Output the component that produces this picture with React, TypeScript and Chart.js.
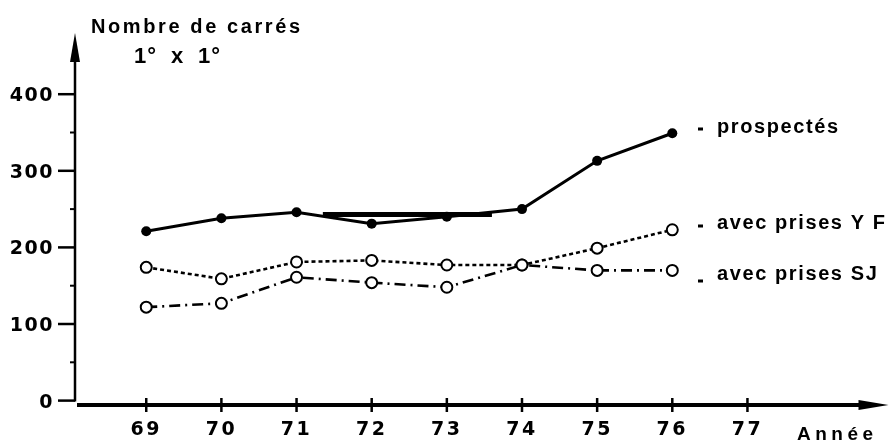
import { useEffect, useRef } from "react";
import { Chart, registerables } from "chart.js";

Chart.register(...registerables);

// Years (19xx) and number of 1°x1° squares per category
const years = [69, 70, 71, 72, 73, 74, 75, 76];
const prospectes = [221, 238, 246, 231, 240, 250, 313, 349];
const prisesYF = [174, 159, 181, 183, 177, 177, 199, 223];
const prisesSJ = [122, 127, 161, 154, 148, 177, 170, 170];

// Heavy straight stroke drawn across 71–74
const strokeYears = [71.35, 73.6];
const strokeValues = [243, 243];

const xTicks = [69, 70, 71, 72, 73, 74, 75, 76, 77];
const yTicks = [0, 100, 200, 300, 400];
const yMinorTicks = [50, 150, 250, 350];

const seriesLabels = ["prospectés", "avec prises Y F", "avec prises SJ"];
const yTitle = "Nombre de carrés";
const yUnit = ["1°", "x", "1°"];
const xTitle = "Année";

const toPoints = (xs: number[], ys: number[]) => xs.map((x, i) => ({ x, y: ys[i] }));

const axesPlugin = {
  id: "handAxes",
  afterDraw(chart: any) {
    const { ctx, chartArea, scales } = chart;
    const xs = scales.x;
    const ys = scales.y;
    const ax = chartArea.left;
    const ay = chartArea.bottom;
    ctx.save();
    ctx.fillStyle = "#000";
    ctx.strokeStyle = "#000";
    ctx.lineCap = "butt";

    // vertical axis with arrow
    ctx.lineWidth = 2.5;
    ctx.beginPath();
    ctx.moveTo(ax, ys.getPixelForValue(0) + 1);
    ctx.lineTo(ax, chartArea.top + 20);
    ctx.stroke();
    ctx.beginPath();
    ctx.moveTo(ax, chartArea.top);
    ctx.lineTo(ax - 5, chartArea.top + 29);
    ctx.lineTo(ax + 5, chartArea.top + 29);
    ctx.closePath();
    ctx.fill();

    // vertical axis ticks and labels
    ctx.font = "bold 19px 'DejaVu Sans'";
    (ctx as any).letterSpacing = "1.5px";
    ctx.textAlign = "right";
    ctx.textBaseline = "middle";
    yTicks.forEach((v) => {
      const py = ys.getPixelForValue(v);
      ctx.lineWidth = 2.5;
      ctx.beginPath();
      ctx.moveTo(ax - 17, py);
      ctx.lineTo(ax, py);
      ctx.stroke();
      ctx.fillText(String(v), ax - 21, py + 2);
    });
    yMinorTicks.forEach((v) => {
      const py = ys.getPixelForValue(v);
      ctx.lineWidth = 2;
      ctx.beginPath();
      ctx.moveTo(ax - 5, py);
      ctx.lineTo(ax, py);
      ctx.stroke();
    });

    // horizontal axis with arrow
    const right = chartArea.right;
    ctx.lineWidth = 4;
    ctx.beginPath();
    ctx.moveTo(ax + 2, ay);
    ctx.lineTo(right - 20, ay);
    ctx.stroke();
    ctx.beginPath();
    ctx.moveTo(right, ay);
    ctx.lineTo(right - 30, ay - 5);
    ctx.lineTo(right - 30, ay + 5);
    ctx.closePath();
    ctx.fill();

    // horizontal axis ticks and labels
    ctx.textAlign = "center";
    (ctx as any).letterSpacing = "2.5px";
    xTicks.forEach((v) => {
      const px = xs.getPixelForValue(v);
      ctx.lineWidth = 2.5;
      ctx.beginPath();
      ctx.moveTo(px, ay - 7);
      ctx.lineTo(px, ay + 7);
      ctx.stroke();
      ctx.fillText(String(v), px, ay + 25);
    });

    // axis titles
    ctx.textAlign = "left";
    ctx.textBaseline = "alphabetic";
    ctx.font = "bold 19px 'Liberation Sans'";
    (ctx as any).letterSpacing = "4.5px";
    ctx.fillText(xTitle, 797, ay + 35);

    ctx.font = "bold 20px 'Liberation Sans'";
    (ctx as any).letterSpacing = "2.6px";
    ctx.fillText(yTitle, 91, 33);
    ctx.font = "bold 22px 'Liberation Sans'";
    (ctx as any).letterSpacing = "1px";
    ctx.fillText(yUnit[0], 134, 63);
    ctx.fillText(yUnit[1], 171, 63);
    ctx.fillText(yUnit[2], 198, 63);

    // series labels beside the last points
    ctx.font = "bold 20px 'Liberation Sans'";
    (ctx as any).letterSpacing = "1.6px";
    const baselines = [133, 229, 280];
    const dashY = [129, 226, 281];
    seriesLabels.forEach((label, i) => {
      ctx.fillRect(698, dashY[i] - 1.5, 5, 3);
      ctx.fillText(label, 717, baselines[i]);
    });

    ctx.restore();
  },
};

export default function App() {
  const canvasRef = useRef<HTMLCanvasElement | null>(null);

  useEffect(() => {
    const canvas = canvasRef.current;
    if (!canvas) return;
    const chart = new Chart(canvas, {
      type: "line",
      data: {
        datasets: [
          {
            label: seriesLabels[0],
            data: toPoints(years, prospectes),
            borderColor: "#000",
            borderWidth: 3,
            pointRadius: 5,
            pointBackgroundColor: "#000",
            pointBorderWidth: 0,
            tension: 0,
          },
          {
            label: seriesLabels[1],
            data: toPoints(years, prisesYF),
            borderColor: "#000",
            borderWidth: 2.6,
            borderDash: [4, 3],
            pointRadius: 5.5,
            pointBackgroundColor: "#fff",
            pointBorderColor: "#000",
            pointBorderWidth: 2,
            tension: 0,
          },
          {
            label: seriesLabels[2],
            data: toPoints(years, prisesSJ),
            borderColor: "#000",
            borderWidth: 2.6,
            borderDash: [11, 5, 2, 5],
            pointRadius: 5.5,
            pointBackgroundColor: "#fff",
            pointBorderColor: "#000",
            pointBorderWidth: 2,
            tension: 0,
          },
          {
            label: "trait",
            data: toPoints(strokeYears, strokeValues),
            borderColor: "#000",
            borderWidth: 5,
            pointRadius: 0,
            tension: 0,
          },
        ],
      },
      options: {
        responsive: false,
        animation: false,
        events: [],
        layout: { padding: { left: 75, right: 3, top: 33, bottom: 37 } },
        plugins: { legend: { display: false }, tooltip: { enabled: false } },
        scales: {
          x: { type: "linear", min: 68.052, max: 78.877, display: false },
          y: { type: "linear", min: -5.74, max: 479.9, display: false },
        },
      },
      plugins: [axesPlugin],
    });
    return () => chart.destroy();
  }, []);

  return (
    <div style={{ position: "fixed", left: 0, top: 0, width: 896, height: 442, background: "#fff" }}>
      <canvas ref={canvasRef} width={896} height={442} style={{ display: "block" }} />
    </div>
  );
}
